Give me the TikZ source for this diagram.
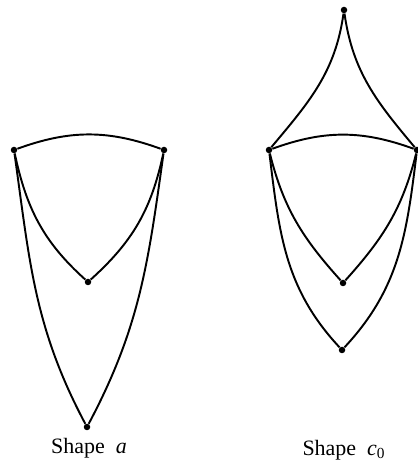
\documentclass[tikz,border=0pt]{standalone}
\usepackage{fontspec}
\setmainfont{Liberation Serif}
\usetikzlibrary{positioning}

\begin{document}
\begin{tikzpicture}[
    x=0.02cm, y=0.02cm,
    dot/.style={circle, fill=black, inner sep=0pt, minimum size=0.13cm},
    arc/.style={line width=1.1pt},
    lbl/.style={anchor=base, font=\fontsize{12.5}{15}\selectfont},
]
\useasboundingbox (0,0) rectangle (417,462);

% ── Shape a ──────────────────────────
\node[dot] (atl)  at (14,312) {};
\node[dot] (atr)  at (164,312) {};
\node[dot] (amid) at (88,180) {};
\node[dot] (abot) at (87,35) {};

\draw[arc] (atl) to[bend left=20] (atr);
\draw[arc] (atl) to[out=-78, in=138] (amid);
\draw[arc] (atr) to[out=-102, in=42] (amid);
\draw[arc] (atl) to[out=-82, in=118] (abot);
\draw[arc] (atr) to[out=-98, in=62] (abot);

\node[lbl] (lbla) at (89,9) {Shape\enspace\textit{a}};

% ── Shape c0 ─────────────────────────
\node[dot] (ctop) at (344,452) {};
\node[dot] (cl)   at (269,312) {};
\node[dot] (cr)   at (417,312) {};
\node[dot] (cmid) at (343,179) {};
\node[dot] (clow) at (342,112) {};

\draw[arc] (cl) to[out=50, in=-98] (ctop);
\draw[arc] (cr) to[out=130, in=-82] (ctop);
\draw[arc] (cl) to[bend left=20] (cr);
\draw[arc] (cl) to[out=-76, in=132] (cmid);
\draw[arc] (cr) to[out=-104, in=48] (cmid);
\draw[arc] (cl) to[out=-83, in=133] (clow);
\draw[arc] (cr) to[out=-97, in=47] (clow);

\node[lbl] (lblc) at (344,7) {Shape\enspace\textit{c}\textsubscript{0}};

\end{tikzpicture}
\end{document}
